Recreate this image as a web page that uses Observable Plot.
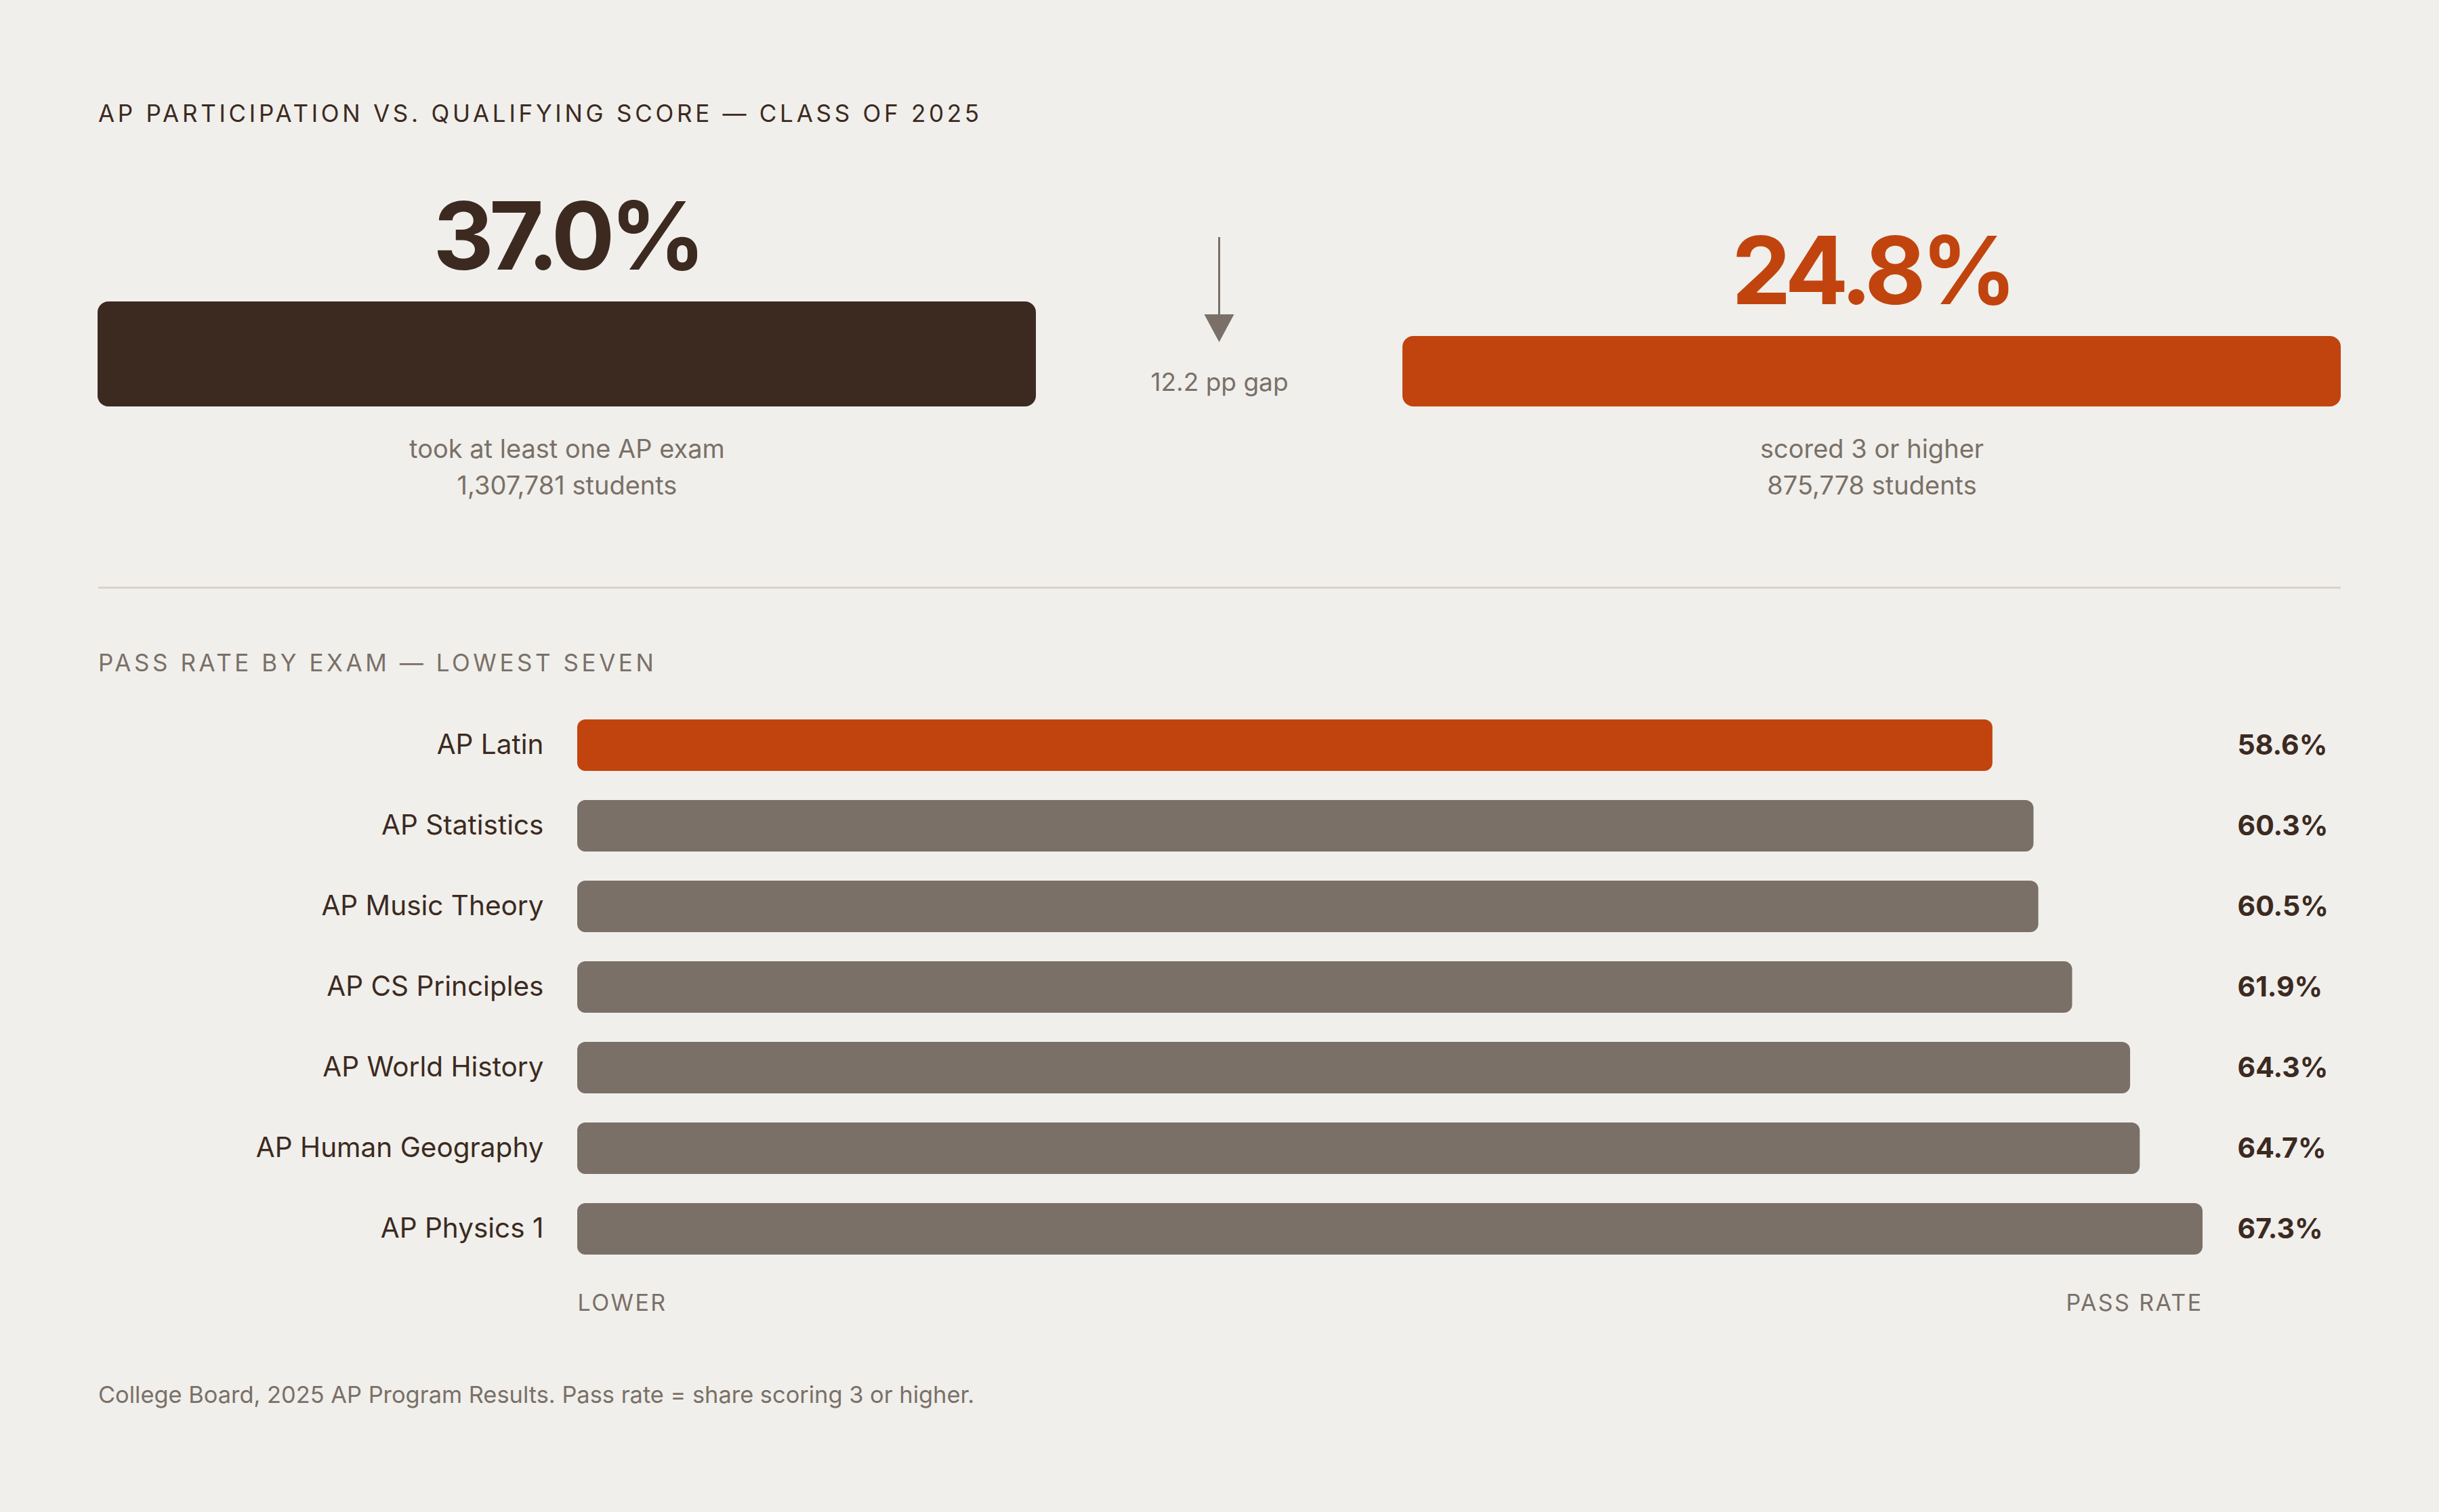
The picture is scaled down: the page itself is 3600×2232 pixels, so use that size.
<!DOCTYPE html>
<html>
<head>
<meta charset="utf-8">
<script src="https://cdn.jsdelivr.net/npm/d3@7"></script>
<script src="https://cdn.jsdelivr.net/npm/@observablehq/plot@0.6"></script>
<style>
  html, body { margin: 0; padding: 0; background: #f0efeb; }
  body { width: 3600px; height: 2232px; position: relative; overflow: hidden; font-family: Inter, "Noto Sans", sans-serif; }
  .abs { position: absolute; white-space: nowrap; line-height: 1; }
  #title { left: 145px; top: 150px; font-size: 35px; letter-spacing: 0.135em; color: #3c2a21; }
  #section { left: 145px; top: 961px; font-size: 35px; letter-spacing: 0.13em; color: #7a7068; }
  #rule { position: absolute; left: 145px; width: 3310px; top: 866px; height: 3px; background: #d8d2cc; }
  #footer { left: 145px; top: 2042px; font-size: 34.4px; color: #7a7068; }
  #topchart { position: absolute; left: 0; top: 250px; }
  #bottomchart { position: absolute; left: 0; top: 1000px; }
</style>
</head>
<body>
<div id="title" class="abs">AP PARTICIPATION VS. QUALIFYING SCORE — CLASS OF 2025</div>
<div id="topchart"></div>
<div id="rule"></div>
<div id="section" class="abs">PASS RATE BY EXAM — LOWEST SEVEN</div>
<div id="bottomchart"></div>
<div id="footer" class="abs">College Board, 2025 AP Program Results. Pass rate = share scoring 3 or higher.</div>
<script>
// ---- data ----
const topKeys = ["participation", "qualifying"];
const topLabels = ["took at least one AP exam", "scored 3 or higher"];
const topShares = [37.0, 24.8];
const topCounts = [1307781, 875778];

const exams = ["AP Latin", "AP Statistics", "AP Music Theory", "AP CS Principles", "AP World History", "AP Human Geography", "AP Physics 1"];
const passRates = [58.6, 60.3, 60.5, 61.9, 64.3, 64.7, 67.3];
const highlightExam = "AP Latin";

// ---- palette ----
const DARK = "#3c2a21";
const ORANGE = "#c1440e";
const GRAY = "#7a7068";

const topData = topKeys.map((k, i) => ({key: k, label: topLabels[i], share: topShares[i], count: topCounts[i], color: i === 0 ? DARK : ORANGE}));
const examData = exams.map((e, i) => ({exam: e, rate: passRates[i], color: e === highlightExam ? ORANGE : GRAY}));
const gap = d3.max(topShares) - d3.min(topShares);

// gap arrow (annotation) drawn at the frame centre
function gapArrow(index, scales, values, dims) {
  const cx = (dims.marginLeft + dims.width - dims.marginRight) / 2;
  const g = d3.create("svg:g");
  g.append("line").attr("x1", cx).attr("x2", cx).attr("y1", 100).attr("y2", 220)
    .attr("stroke", GRAY).attr("stroke-width", 3);
  g.append("path").attr("d", `M${cx - 22},214L${cx + 22},214L${cx},255Z`).attr("fill", GRAY);
  return g.node();
}

const topPlot = Plot.plot({
  width: 3600, height: 520,
  marginLeft: 144, marginRight: 145, marginTop: 195, marginBottom: 170,
  style: {background: "transparent", fontFamily: "Inter, 'Noto Sans', sans-serif", overflow: "visible", color: DARK},
  x: {type: "band", domain: topKeys, paddingInner: 0.281, paddingOuter: 0, axis: null},
  y: {domain: [0, d3.max(topShares)], axis: null},
  color: {type: "identity"},
  marks: [
    Plot.barY(topData, {x: "key", y: "share", fill: "color", rx: 16}),
    Plot.text(topData, {x: "key", y: "share", text: d => d.share.toFixed(1) + "%", dy: -48, lineAnchor: "bottom", fontSize: 139, fontWeight: 700, fill: "color"}),
    Plot.text(topData, {x: "key", frameAnchor: "bottom", text: "label", dy: 75, lineAnchor: "bottom", fontSize: 38, fill: GRAY}),
    Plot.text(topData, {x: "key", frameAnchor: "bottom", text: d => d3.format(",")(d.count) + " students", dy: 129, lineAnchor: "bottom", fontSize: 38, fill: GRAY}),
    Plot.text([gap], {frameAnchor: "top", text: d => d.toFixed(1) + " pp gap", dy: 120, lineAnchor: "middle", fontSize: 37, fill: GRAY}),
    gapArrow
  ]
});
topPlot.querySelectorAll('g[font-size="139"]').forEach(g => g.setAttribute("letter-spacing", "-0.05em"));
document.getElementById("topchart").appendChild(topPlot);

const bottomPlot = Plot.plot({
  width: 3600, height: 960,
  marginLeft: 852, marginRight: 349, marginTop: 16, marginBottom: 61,
  style: {background: "transparent", fontFamily: "Inter, 'Noto Sans', sans-serif", overflow: "visible", color: DARK},
  x: {domain: [0, d3.max(passRates)], axis: null},
  y: {domain: exams, padding: 0.36, label: null},
  color: {type: "identity"},
  marks: [
    Plot.axisY({tickSize: 0, tickPadding: 50, fontSize: 40.5, label: null, fill: DARK}),
    Plot.barX(examData, {x: "rate", y: "exam", fill: "color", rx: 12}),
    Plot.text(examData, {y: "exam", frameAnchor: "right", textAnchor: "start", dx: 51, text: d => d.rate.toFixed(1) + "%", fontSize: 41, fontWeight: 700, fill: DARK}),
    Plot.text(["LOWER"], {frameAnchor: "bottom-left", textAnchor: "start", text: d => d, dy: 25, lineAnchor: "middle", fontSize: 34, fill: GRAY}),
    Plot.text(["PASS RATE"], {frameAnchor: "bottom-right", textAnchor: "end", text: d => d, dy: 25, lineAnchor: "middle", fontSize: 34, fill: GRAY})
  ]
});
bottomPlot.querySelectorAll('g[font-size="34"]').forEach(g => g.setAttribute("letter-spacing", "0.07em"));
document.getElementById("bottomchart").appendChild(bottomPlot);
</script>
</body>
</html>
